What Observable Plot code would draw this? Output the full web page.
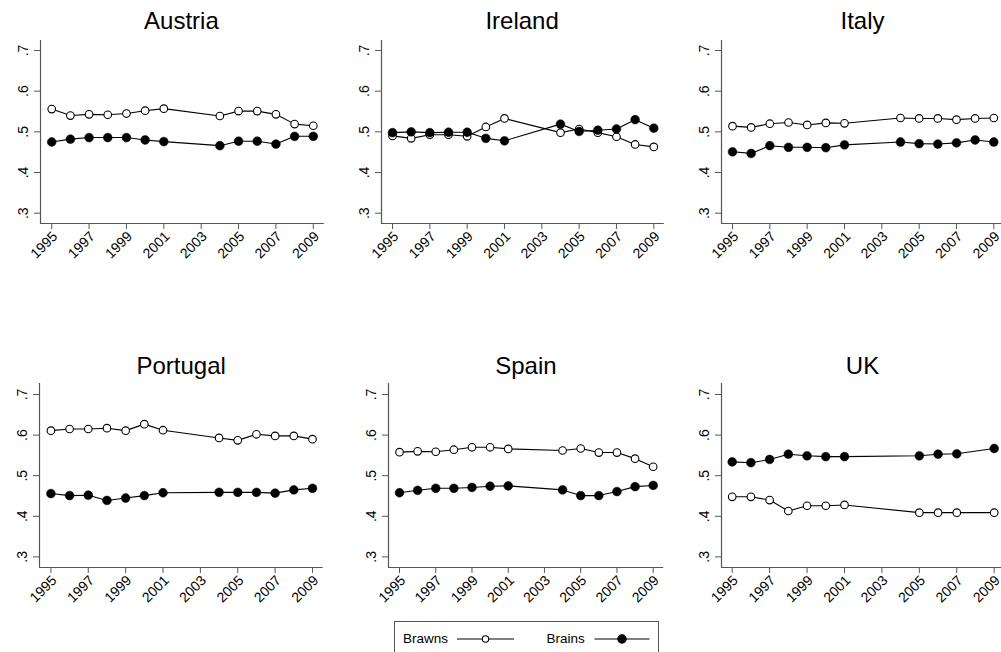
<!DOCTYPE html>
<html><head><meta charset="utf-8">
<script src="https://cdn.jsdelivr.net/npm/d3@7"></script>
<script src="https://cdn.jsdelivr.net/npm/@observablehq/plot@0.6"></script>
<style>
body{margin:0;background:#fff;font-family:"Liberation Sans",Arial,Helvetica,sans-serif;}
#chart{position:relative;width:1001px;height:652px;overflow:hidden;background:#fff;}
.title{position:absolute;font-size:24px;color:#000;transform:translateX(-50%);white-space:nowrap;line-height:1;}
.panel{position:absolute;}
</style></head><body><div id="chart"></div>
<script>
// ---- data ----
const countries = ["Austria", "Ireland", "Italy", "Portugal", "Spain", "UK"];
const yearsMain = [1995, 1996, 1997, 1998, 1999, 2000, 2001, 2004, 2005, 2006, 2007, 2008, 2009];
const yearsUK   = [1995, 1996, 1997, 1998, 1999, 2000, 2001, 2005, 2006, 2007, 2009];

const brawnsAustria = [0.556, 0.540, 0.543, 0.542, 0.545, 0.552, 0.557, 0.539, 0.551, 0.551, 0.543, 0.519, 0.515];
const brainsAustria = [0.475, 0.482, 0.486, 0.486, 0.486, 0.480, 0.476, 0.466, 0.477, 0.477, 0.470, 0.489, 0.489];

const brawnsIreland = [0.490, 0.484, 0.493, 0.493, 0.489, 0.512, 0.533, 0.498, 0.507, 0.498, 0.488, 0.469, 0.463];
const brainsIreland = [0.498, 0.500, 0.498, 0.499, 0.499, 0.484, 0.478, 0.519, 0.501, 0.504, 0.507, 0.530, 0.509];

const brawnsItaly = [0.514, 0.511, 0.520, 0.523, 0.517, 0.522, 0.521, 0.534, 0.533, 0.533, 0.530, 0.533, 0.534];
const brainsItaly = [0.451, 0.447, 0.466, 0.462, 0.462, 0.461, 0.468, 0.475, 0.471, 0.470, 0.473, 0.480, 0.475];

const brawnsPortugal = [0.611, 0.615, 0.615, 0.617, 0.611, 0.627, 0.612, 0.593, 0.587, 0.602, 0.598, 0.598, 0.590];
const brainsPortugal = [0.456, 0.451, 0.452, 0.439, 0.445, 0.451, 0.458, 0.459, 0.459, 0.459, 0.457, 0.465, 0.469];

const brawnsSpain = [0.558, 0.560, 0.559, 0.564, 0.570, 0.570, 0.566, 0.562, 0.567, 0.557, 0.557, 0.542, 0.522];
const brainsSpain = [0.458, 0.464, 0.469, 0.469, 0.471, 0.474, 0.475, 0.465, 0.451, 0.451, 0.461, 0.473, 0.476];

const brawnsUK = [0.448, 0.448, 0.440, 0.413, 0.426, 0.426, 0.428, 0.409, 0.409, 0.409, 0.409];
const brainsUK = [0.534, 0.532, 0.540, 0.553, 0.549, 0.547, 0.547, 0.549, 0.553, 0.554, 0.567];

const xTicks = [1995, 1997, 1999, 2001, 2003, 2005, 2007, 2009];
const xTickLabels = ["1995", "1997", "1999", "2001", "2003", "2005", "2007", "2009"];
const yTicks = [0.3, 0.4, 0.5, 0.6, 0.7];
const yTickLabels = [".3", ".4", ".5", ".6", ".7"];
const seriesNames = ["Brawns", "Brains"];

const seriesByCountry = {
  Austria: [yearsMain, brawnsAustria, brainsAustria],
  Ireland: [yearsMain, brawnsIreland, brainsIreland],
  Italy: [yearsMain, brawnsItaly, brainsItaly],
  Portugal: [yearsMain, brawnsPortugal, brainsPortugal],
  Spain: [yearsMain, brawnsSpain, brainsSpain],
  UK: [yearsUK, brawnsUK, brainsUK]
};

// ---- layout (page pixel positions of each panel's frame) ----
const layout = {
  Austria:  {L: 39.5,  x95: 50.7,  x09: 312.3, R: 323.3, T: 40,    B: 223,   y7: 50,    y3: 212.7, tb: 28.3},
  Ireland:  {L: 380.7, x95: 391.7, x09: 653,   R: 663.5, T: 40,    B: 223,   y7: 50,    y3: 212.7, tb: 28.3},
  Italy:    {L: 721,   x95: 732,   x09: 993.3, R: 1004,  T: 40,    B: 223,   y7: 50,    y3: 212.7, tb: 28.3},
  Portugal: {L: 39.3,  x95: 50.7,  x09: 312.3, R: 323,   T: 383.3, B: 567.3, y7: 394.3, y3: 556.7, tb: 372.7},
  Spain:    {L: 388.3, x95: 399.3, x09: 653,   R: 663.5, T: 383.3, B: 567.3, y7: 394.3, y3: 556.7, tb: 372.7},
  UK:       {L: 721,   x95: 731.7, x09: 993.7, R: 1004,  T: 383.3, B: 567.3, y7: 394.3, y3: 556.7, tb: 372.7}
};

const FONT = '"Liberation Sans", Arial, Helvetica, sans-serif';
const AXIS = "#555";
const chart = document.getElementById("chart");

for (const c of countries) {
  const p = layout[c];
  const [yrs, bw, br] = seriesByCountry[c];
  const data = yrs.map((y, i) => ({year: y, brawns: bw[i], brains: br[i]}));
  const ppx = (p.x09 - p.x95) / 14;
  const xDom = [1995 - (p.x95 - p.L) / ppx, 2009 + (p.R - p.x09) / ppx];
  const ppy = (p.y3 - p.y7) / 0.4;
  const yDom = [0.3 - (p.B - p.y3) / ppy, 0.7 + (p.y7 - p.T) / ppy];
  const mL = 45, mT = 10, mB = 60, mR = 5;
  const svg = Plot.plot({
    width: mL + (p.R - p.L) + mR,
    height: mT + (p.B - p.T) + mB,
    marginLeft: mL, marginRight: mR, marginTop: mT, marginBottom: mB,
    x: {domain: xDom},
    y: {domain: yDom},
    style: {fontFamily: FONT, fontSize: "14px", color: "#000", background: "transparent", overflow: "visible"},
    marks: [
      Plot.ruleX([xDom[0]], {stroke: AXIS, strokeWidth: 1.2}),
      Plot.ruleY([yDom[0]], {stroke: AXIS, strokeWidth: 1.2}),
      Plot.axisY(yTicks, {
        tickFormat: d => yTickLabels[yTicks.indexOf(d)],
        tickRotate: -90, tickSize: 6, tickPadding: 7,
        stroke: AXIS, fill: "#000", fontSize: 14, label: null
      }),
      // tick marks only
      Plot.axisX(xTicks, {
        tickFormat: () => "", tickSize: 6, stroke: AXIS, label: null
      }),
      // rotated tick labels only
      Plot.axisX(xTicks, {
        tickFormat: d => xTickLabels[xTicks.indexOf(d)],
        tickRotate: -45, tickSize: 0, tickPadding: 9, textAnchor: "end",
        fill: "#000", fontSize: 14, label: null, dx: 3.5, dy: 1.5
      }),
      Plot.line(data, {x: "year", y: "brawns", stroke: "#000", strokeWidth: 1.1}),
      Plot.line(data, {x: "year", y: "brains", stroke: "#000", strokeWidth: 1.1}),
      Plot.dot(data, {x: "year", y: "brawns", r: 3.8, fill: "#fff", stroke: "#000", strokeWidth: 1.1}),
      Plot.dot(data, {x: "year", y: "brains", r: 4.4, fill: "#000", stroke: "#000", strokeWidth: 0.5})
    ]
  });
  svg.classList.add("panel");
  svg.style.left = (p.L - mL) + "px";
  svg.style.top = (p.T - mT) + "px";
  chart.appendChild(svg);

  const t = document.createElement("div");
  t.className = "title";
  t.textContent = c;
  t.style.left = ((p.L + p.R) / 2) + "px";
  t.style.top = (p.tb - 19) + "px";
  chart.appendChild(t);
}

// ---- legend ----
const lg = d3.select(chart).append("svg")
  .attr("width", 266).attr("height", 36)
  .style("position", "absolute").style("left", "393.5px").style("top", "621px");
lg.append("rect").attr("x", 0.5).attr("y", 0.5).attr("width", 264).attr("height", 40)
  .attr("fill", "#fff").attr("stroke", AXIS).attr("stroke-width", 1);
const legendItems = [
  {name: seriesNames[0], tx: 9, x1: 63, x2: 120, cx: 91.5, fill: "#fff", r: 3.2},
  {name: seriesNames[1], tx: 152.5, x1: 200.5, x2: 255.5, cx: 228, fill: "#000", r: 4.2}
];
for (const it of legendItems) {
  lg.append("text").attr("x", it.tx).attr("y", 22).attr("font-family", FONT)
    .attr("font-size", 13.5).attr("fill", "#000").text(it.name);
  lg.append("line").attr("x1", it.x1).attr("x2", it.x2).attr("y1", 18).attr("y2", 18)
    .attr("stroke", "#000").attr("stroke-width", 1.1);
  lg.append("circle").attr("cx", it.cx).attr("cy", 18).attr("r", it.r)
    .attr("fill", it.fill).attr("stroke", "#000").attr("stroke-width", 1.1);
}
</script>
</body></html>
